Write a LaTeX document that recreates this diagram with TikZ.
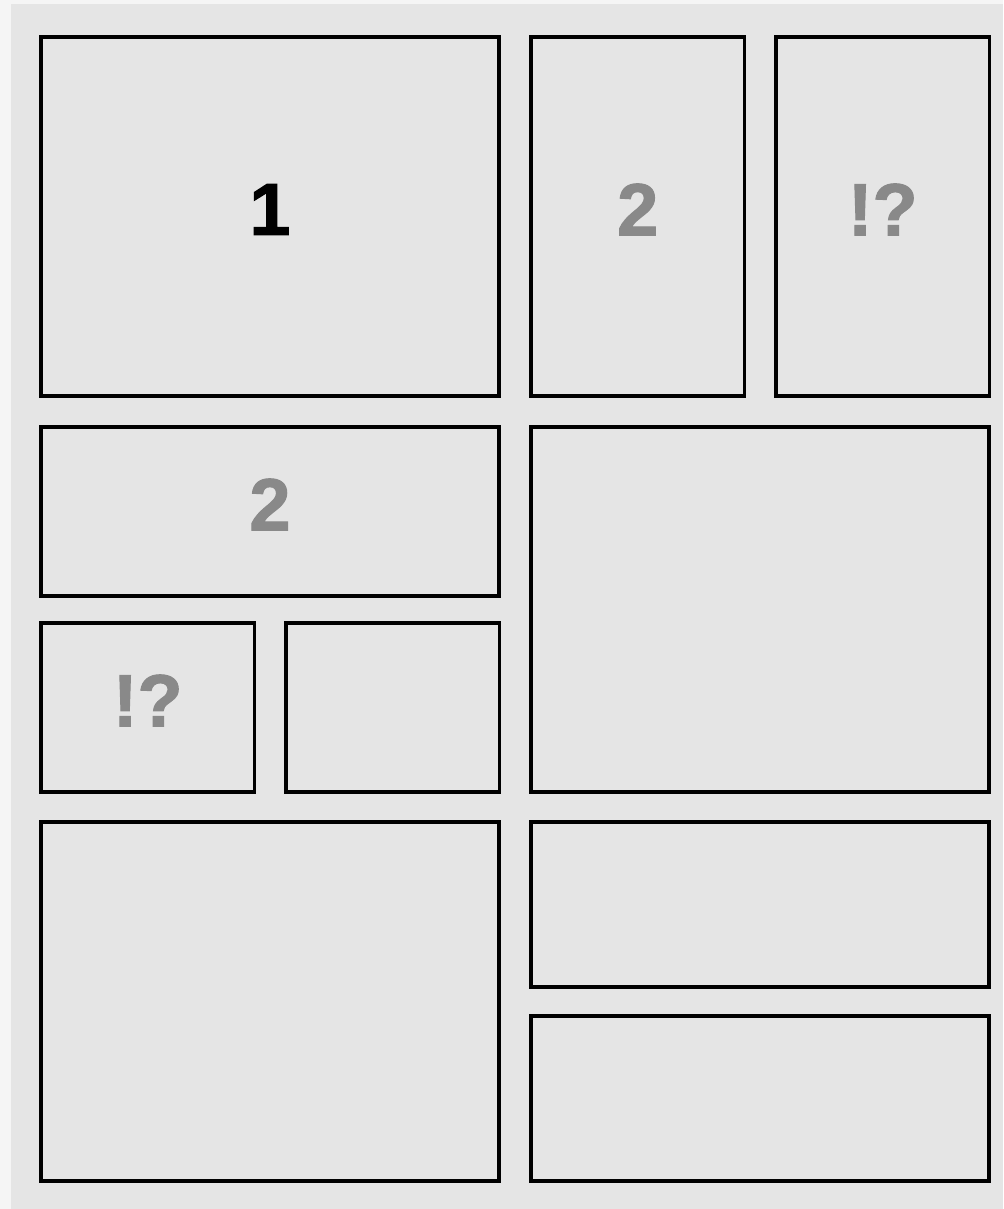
\documentclass[tikz,border=0pt]{standalone}
\usepackage{fontspec}
\setmainfont{Liberation Sans}[BoldFeatures={FakeBold=1.5}]
\usepackage{xcolor}
\usepackage{tikz}
\usetikzlibrary{positioning}

\definecolor{pagebg}{HTML}{F5F5F5}
\definecolor{panelbg}{HTML}{E5E5E5}
\definecolor{markgray}{HTML}{898989}

\begin{document}
\begin{tikzpicture}[
x=0.02cm, y=-0.02cm,
every node/.style={draw, line width=2pt, rectangle, anchor=north west, inner sep=0pt, outer sep=0pt, text depth=0.28cm, font=\fontsize{42}{42}\selectfont\bfseries},
wide/.style={minimum width=9.16cm},
narrow/.style={minimum width=4.27cm},
tall/.style={minimum height=7.18cm},
short/.style={minimum height=3.38cm},
faded/.style={text=markgray}
]

% page and panel background
\fill[pagebg] (0,0) rectangle (1003,1209);
\fill[panelbg] (11,4) rectangle (1003,1209);
\useasboundingbox (0,0) rectangle (1003,1209);

\node[wide, tall] (one) at (41,37) {1};
\node[narrow, tall, faded] (twoup) at (531,37) {2};
\node[narrow, tall, faded] (askup) at (776,37) {!?};
\node[wide, short, faded] (twoleft) at (41,427) {2};
\node[wide, minimum height=7.30cm] (bigright) at (531,427) {};
\node[narrow, short, faded] (askleft) at (41,623) {!?};
\node[narrow, short] (emptyleft) at (286,623) {};
\node[wide, tall] (bottomleft) at (41,822) {};
\node[wide, minimum height=3.30cm] (rightupper) at (531,822) {};
\node[wide, minimum height=3.30cm] (rightlower) at (531,1016) {};

\end{tikzpicture}
\end{document}
